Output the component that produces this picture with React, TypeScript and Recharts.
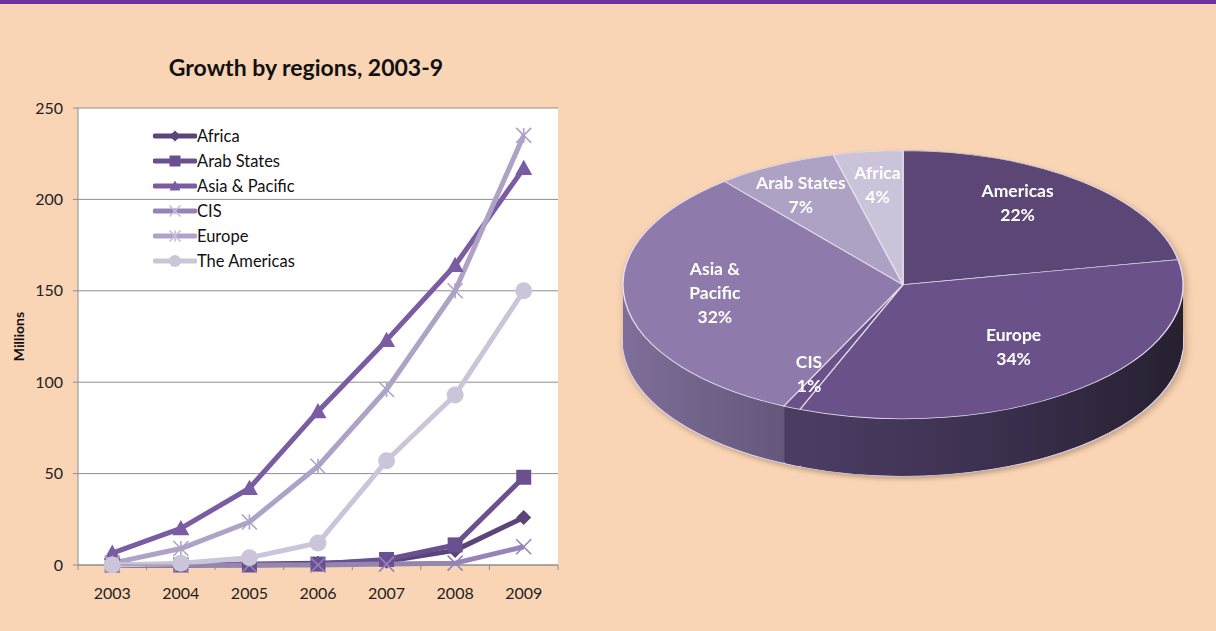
import React from 'react';
import {
  LineChart, Line, XAxis, YAxis, CartesianGrid, Legend, PieChart, Pie, Cell,
} from 'recharts';

// ---------- Data ----------
const years = [2003, 2004, 2005, 2006, 2007, 2008, 2009];
const africa = [0, 0, 0.5, 1, 2, 8, 26];
const arabStates = [0, 0, 0, 0.5, 3, 11, 48];
const asiaPacific = [6.5, 20, 42, 84, 123, 164, 217];
const cis = [0, 0, 0, 0, 0.5, 1, 10];
const europe = [1, 9, 23.5, 54, 96, 150, 235];
const americas = [0, 1, 4, 12, 57, 93, 150];
const yTicks = [0, 50, 100, 150, 200, 250];

const pieNames = ['Americas', 'Europe', 'CIS', 'Asia & Pacific', 'Arab States', 'Africa'];
const pieValues = [22, 34, 1, 32, 7, 4];

// ---------- Config / styles ----------
const FONT = "Lato, 'Open Sans', sans-serif";
const seriesList = [
  { key: 'africa', name: 'Africa', values: africa, color: '#5B4478', shape: 'diamond' },
  { key: 'arab', name: 'Arab States', values: arabStates, color: '#6A5090', shape: 'square' },
  { key: 'asia', name: 'Asia & Pacific', values: asiaPacific, color: '#7A5CA3', shape: 'triangle' },
  { key: 'cis', name: 'CIS', values: cis, color: '#9683B8', shape: 'x' },
  { key: 'europe', name: 'Europe', values: europe, color: '#AEA2C6', shape: 'star' },
  { key: 'americas', name: 'The Americas', values: americas, color: '#CBC5DA', shape: 'circle' },
];

const lineData = years.map((y, i) => {
  const row: any = { year: y };
  seriesList.forEach((s) => { row[s.key] = s.values[i]; });
  return row;
});
const boundaryTicks = years.map((y) => y - 0.5).concat([years[years.length - 1] + 0.5]);

const pieTopColors = ['#5C4675', '#6A5189', '#6B5189', '#8E7AAB', '#AEA2C4', '#CBC3D9'];
const pieSideColors = ['#3A2E4C', 'url(#gEuropeSide)', '#4C3D62', 'url(#gAsiaSide)', '#7E7296', '#948AA8'];
// label nudges (screen px), styling only
const pieLabelNudgeX = [-5, -9, -5, -2, -17, -2];
const pieLabelNudgeY = [-3, 2, 0, 6, -1, -2];
const pieData = pieNames.map((n, i) => ({ name: n, value: pieValues[i], idx: i }));

const K = 0.479; // vertical squash of the pie
const RAD = Math.PI / 180;
const DEPTH_LAYERS = Array.from({ length: 61 }, (_, i) => 60 - i); // 60..0

function Marker({ shape, x, y, color, size }: any) {
  const s = size / 2;
  switch (shape) {
    case 'diamond':
      return <path d={`M${x},${y - s}L${x + s},${y}L${x},${y + s}L${x - s},${y}Z`} fill={color} />;
    case 'square':
      return <rect x={x - s} y={y - s} width={size} height={size} fill={color} />;
    case 'triangle':
      return <path d={`M${x},${y - s}L${x + s},${y + s * 0.8}L${x - s},${y + s * 0.8}Z`} fill={color} />;
    case 'x':
      return (
        <g stroke={color} strokeWidth={1.6}>
          <line x1={x - s} y1={y - s} x2={x + s} y2={y + s} />
          <line x1={x - s} y1={y + s} x2={x + s} y2={y - s} />
        </g>
      );
    case 'star':
      return (
        <g stroke={color} strokeWidth={1.6}>
          <line x1={x - s} y1={y - s} x2={x + s} y2={y + s} />
          <line x1={x - s} y1={y + s} x2={x + s} y2={y - s} />
          <line x1={x} y1={y - s} x2={x} y2={y + s} />
        </g>
      );
    default:
      return <circle cx={x} cy={y} r={s} fill={color} />;
  }
}

const makeDot = (shape: string, color: string) => (props: any) => {
  const { cx, cy, index } = props;
  if (cx == null || cy == null) return <g key={index} />;
  const size = shape === 'circle' ? 17 : shape === 'triangle' ? 17 : 15;
  return <g key={`${shape}-${index}`}><Marker shape={shape} x={cx} y={cy} color={color} size={size} /></g>;
};

const renderLegend = () => (
  <div style={{ fontFamily: FONT, fontSize: 16.5, color: '#111' }}>
    {seriesList.map((s) => (
      <div key={s.key} style={{ display: 'flex', alignItems: 'center', height: 25 }}>
        <svg width={44} height={20} style={{ display: 'block' }}>
          <line x1={2} y1={10} x2={42} y2={10} stroke={s.color} strokeWidth={5} strokeLinecap="round" />
          <Marker shape={s.shape} x={22} y={10} color={s.shape === 'x' || s.shape === 'star' ? '#C8BEDA' : s.color} size={s.shape === 'circle' ? 12 : 11} />
        </svg>
        <span style={{ marginLeft: 0 }}>{s.name}</span>
      </div>
    ))}
  </div>
);

const renderPieLabel = (props: any) => {
  const { cx, cy, midAngle, outerRadius, name, value, index } = props;
  const r = outerRadius * (value < 2 ? 0.8 : 0.67);
  const x = cx + r * Math.cos(-midAngle * RAD) + (pieLabelNudgeX[index] || 0);
  const y = cy + r * Math.sin(-midAngle * RAD) + (-10 + (pieLabelNudgeY[index] || 0)) / K;
  let lines: string[] = [String(name)];
  if (String(name).length > 12) {
    const idx = String(name).lastIndexOf(' ');
    lines = [String(name).slice(0, idx), String(name).slice(idx + 1)];
  }
  lines.push(`${value}%`);
  const n = lines.length;
  return (
    <g key={`lbl-${index}`} transform={`translate(${x},${y}) scale(1,${1 / K})`}>
      <text textAnchor="middle" dominantBaseline="central" fill="#fff" fontWeight={700} fontSize={17.5} fontFamily={FONT}>
        {lines.map((l, i) => (
          <tspan key={i} x={0} y={(i - (n - 1) / 2) * 24}>{l}</tspan>
        ))}
      </text>
    </g>
  );
};

export default function App() {
  return (
    <div style={{ position: 'absolute', left: 0, top: 0, width: 1216, height: 631, background: '#FAD5B5', overflow: 'hidden', fontFamily: FONT }}>
      <div style={{ position: 'absolute', left: 0, top: 0, width: 1216, height: 4, background: '#7030A0' }} />
      <div style={{ position: 'absolute', left: 0, top: 52, width: 612, textAlign: 'center', fontSize: 23, fontWeight: 700, color: '#111', lineHeight: '30px' }}>
        Growth by regions, 2003-9
      </div>

      <div style={{ position: 'absolute', left: 0, top: 0 }}>
        <LineChart width={575} height={631} data={lineData} margin={{ top: 108, right: 17, bottom: 28, left: 0 }}>
          <CartesianGrid vertical={false} stroke="#8E8E8E" fill="#FFFFFF" fillOpacity={1} />
          <XAxis xAxisId="a" dataKey="year" type="number" domain={[boundaryTicks[0], boundaryTicks[boundaryTicks.length - 1]]}
            ticks={boundaryTicks} tickFormatter={() => ''} height={6} tickSize={5}
            axisLine={{ stroke: '#8E8E8E' }} tickLine={{ stroke: '#8E8E8E' }} />
          <XAxis xAxisId="b" dataKey="year" type="number" domain={[boundaryTicks[0], boundaryTicks[boundaryTicks.length - 1]]}
            ticks={years} height={32} axisLine={false} tickLine={false} tickMargin={11}
            tick={{ fill: '#222', fontSize: 16, fontFamily: FONT }} />
          <YAxis domain={[0, 250]} ticks={yTicks} width={78} tickSize={5} tickMargin={10}
            axisLine={{ stroke: '#8E8E8E' }} tickLine={{ stroke: '#8E8E8E' }}
            tick={{ fill: '#222', fontSize: 16, fontFamily: FONT }}
            label={{ value: 'Millions', angle: -90, position: 'insideLeft', offset: 19, style: { fontWeight: 700, fontSize: 14, fill: '#111', fontFamily: FONT, textAnchor: 'middle' } }} />
          <Legend layout="vertical" align="center" verticalAlign="middle" content={renderLegend}
            wrapperStyle={{ left: 153, top: 123, width: 220, height: 150 }} />
          {seriesList.map((s) => (
            <Line key={s.key} xAxisId="b" type="linear" dataKey={s.key} name={s.name} stroke={s.color} strokeWidth={5}
              strokeLinejoin="round" dot={makeDot(s.shape, s.color)} activeDot={false} isAnimationActive={false} />
          ))}
        </LineChart>
      </div>

      <div style={{ position: 'absolute', left: 603, top: 141.3, width: 600, height: 720, transform: `scaleY(${K})`, transformOrigin: 'top left', filter: 'drop-shadow(2px 5px 4px rgba(90,60,40,0.35))' }}>
        <PieChart width={600} height={720} margin={{ top: 0, right: 0, bottom: 0, left: 0 }}>
          <defs>
            <linearGradient id="gEuropeSide" x1="0" y1="0" x2="1" y2="0">
              <stop offset="0" stopColor="#4C3D62" />
              <stop offset="0.5" stopColor="#3C3050" />
              <stop offset="1" stopColor="#272030" />
            </linearGradient>
            <linearGradient id="gAsiaSide" x1="0" y1="0" x2="1" y2="0">
              <stop offset="0" stopColor="#7E6E99" />
              <stop offset="0.65" stopColor="#625478" />
              <stop offset="1" stopColor="#5A4D70" />
            </linearGradient>
          </defs>
          {DEPTH_LAYERS.map((i) => (
            <Pie key={`layer-${i}`} data={pieData} dataKey="value" nameKey="name" cx={300} cy={300 + i * 2}
              outerRadius={280} startAngle={90} endAngle={-270} isAnimationActive={false}
              stroke={i === 60 ? '#D9D0E2' : 'none'} strokeWidth={i === 60 ? 2 : 0} label={false} labelLine={false}>
              {pieData.map((d, j) => (
                <Cell key={d.name} fill={i === 0 ? pieTopColors[j] : pieSideColors[j]} />
              ))}
            </Pie>
          ))}
          <Pie data={pieData} dataKey="value" nameKey="name" cx={300} cy={300} outerRadius={280}
            startAngle={90} endAngle={-270} isAnimationActive={false} stroke="#E4DDEB" strokeWidth={1.5}
            label={renderPieLabel} labelLine={false}>
            {pieData.map((d, j) => (
              <Cell key={d.name} fill={pieTopColors[j]} />
            ))}
          </Pie>
        </PieChart>
      </div>
    </div>
  );
}
